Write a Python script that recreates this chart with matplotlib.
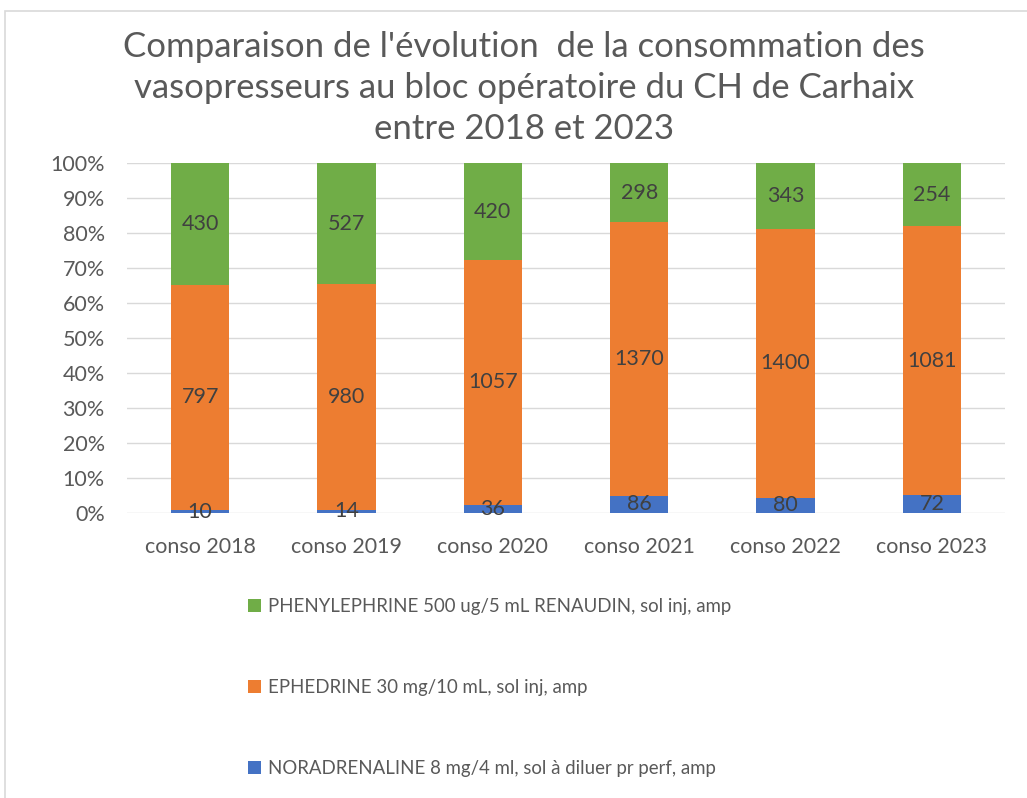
import numpy as np
import matplotlib
matplotlib.use('Agg')
import matplotlib.pyplot as plt
import matplotlib.patches as mpatches

plt.rcParams['font.family'] = ['Lato', 'DejaVu Sans']

categories = ['conso 2018', 'conso 2019', 'conso 2020', 'conso 2021', 'conso 2022', 'conso 2023']
noradrenaline = [10, 14, 36, 86, 80, 72]
ephedrine = [797, 980, 1057, 1370, 1400, 1081]
phenylephrine = [430, 527, 420, 298, 343, 254]

series = [
    ('NORADRENALINE 8 mg/4 ml, sol à diluer pr perf, amp', noradrenaline, '#4472C4'),
    ('EPHEDRINE 30 mg/10 mL, sol inj, amp', ephedrine, '#ED7D31'),
    ('PHENYLEPHRINE 500 ug/5 mL RENAUDIN, sol inj, amp', phenylephrine, '#70AD47'),
]
title = "Comparaison de l'évolution  de la consommation des\nvasopresseurs au bloc opératoire du CH de Carhaix\nentre 2018 et 2023"

W, H = 1027, 798
fig = plt.figure(figsize=(W / 100, H / 100), dpi=100)
fig.patch.set_facecolor('white')

# chart border (light grey frame, cut at right/bottom)
fig.patches.append(mpatches.Rectangle((5 / W, -0.01), 1.02, 1 - 11 / H + 0.01, transform=fig.transFigure,
                                      fill=False, edgecolor='#d9d9d9', linewidth=1.2))

# plot area in pixels: x 127..1005, y 163..513
ax = fig.add_axes([127 / W, 1 - 513 / H, (1005 - 127) / W, (513 - 163) / H])

totals = np.sum([s[1] for s in series], axis=0)
x = np.arange(len(categories))
bottom = np.zeros(len(categories))
handles = []
for label, vals, color in series:
    frac = np.array(vals) / totals
    bars = ax.bar(x, frac, 0.4, bottom=bottom, color=color, label=label, zorder=3)
    for xi, b, f, v in zip(x, bottom, frac, vals):
        ax.text(xi, b + f / 2, str(v), ha='center', va='center', fontsize=15.5,
                color='#404040', zorder=4)
    bottom += frac
    handles.append(bars)

ax.set_xlim(-0.5, len(categories) - 0.5)
ax.set_ylim(0, 1)
ax.set_yticks(np.arange(0, 1.01, 0.1))
ax.set_yticklabels([f'{int(round(t * 100))}%' for t in np.arange(0, 1.01, 0.1)])
ax.set_xticks(x)
ax.set_xticklabels(categories)
ax.grid(axis='y', color='#d9d9d9', linewidth=1, zorder=0)
for s in ax.spines.values():
    s.set_visible(False)
ax.tick_params(axis='both', length=0, labelsize=15.5, colors='#595959')
ax.tick_params(axis='y', pad=16)
ax.tick_params(axis='x', pad=17)

fig.text(524 / W, 1 - 88 / H, title, ha='center', va='center', fontsize=25,
         color='#595959', linespacing=1.36)

leg = fig.legend(handles=handles[::-1], loc='upper left', bbox_to_anchor=(231 / W, 1 - 581 / H),
                 frameon=False, fontsize=13.4, labelspacing=3.45, handlelength=0.7,
                 handleheight=0.7, handletextpad=0.4, labelcolor='#595959')

fig.savefig('out.png', dpi=100, facecolor='white')
